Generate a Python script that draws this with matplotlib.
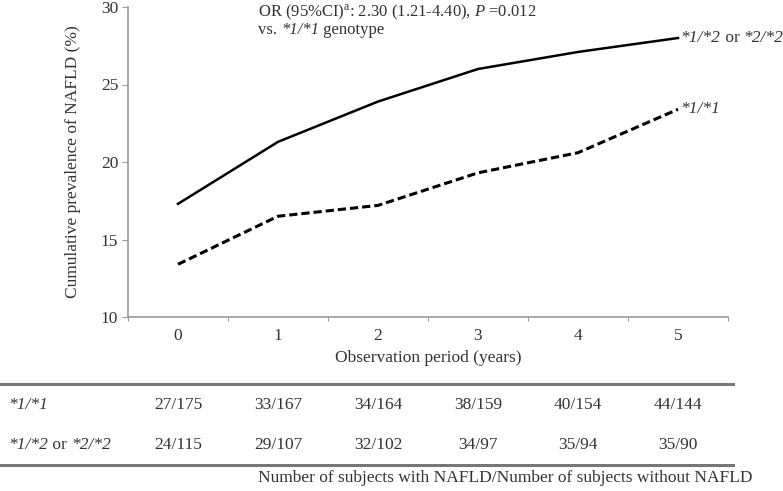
import matplotlib
matplotlib.use("Agg")
import matplotlib.pyplot as plt
import matplotlib.transforms as mtransforms
from matplotlib.lines import Line2D

# data
years = [0, 1, 2, 3, 4, 5]
prev_11 = [13.4, 16.5, 17.2, 19.3, 20.6, 23.4]      # *1/*1 (dashed)
prev_12 = [17.3, 21.3, 23.9, 26.0, 27.1, 28.0]      # *1/*2 or *2/*2 (solid)
counts_11 = ['27/175', '33/167', '34/164', '38/159', '40/154', '44/144']
counts_12 = ['24/115', '29/107', '32/102', '34/97', '35/94', '35/90']
y_ticks = [10, 15, 20, 25, 30]

plt.rcParams['font.family'] = 'Liberation Serif'
plt.rcParams['mathtext.fontset'] = 'custom'
plt.rcParams['mathtext.rm'] = 'Liberation Serif'
plt.rcParams['mathtext.it'] = 'Liberation Serif:italic'
txt = '#333333'
grey = '#999999'
fs = 12.5

W, H = 783, 491
fig = plt.figure(figsize=(W / 100, H / 100), dpi=100)
ax = fig.add_axes([128 / W, 1 - 317 / H, 600 / W, 310 / H])


def chain(t, parts, size=fs):
    # put text pieces with other styles right after text t
    for s, style in parts:
        t = ax.annotate(s, xy=(1, 0), xycoords=t, va='bottom', ha='left',
                        fontsize=size, fontstyle=style, color=txt,
                        annotation_clip=False)
    return t


ax.plot(years, prev_12, color='black', lw=1.8)
ax.plot(years, prev_11, color='black', lw=2.2, linestyle=(0, (2.7, 1.3)))

ax.set_xlim(-0.5, 5.5)
ax.set_ylim(10, 30)
ax.set_yticks(y_ticks)
ax.set_xticks([i - 0.5 for i in range(7)])
ax.set_xticklabels([])
ax.set_xticks(years, minor=True)
ax.set_xticklabels([str(y) for y in years], minor=True)
ax.tick_params(axis='x', which='minor', length=0, pad=8, labelsize=fs, labelcolor=txt)
ax.tick_params(axis='x', which='major', length=3, color=grey, direction='out')
ax.tick_params(axis='y', length=4, color=grey, labelsize=fs, labelcolor=txt, pad=3)
for side in ['top', 'right']:
    ax.spines[side].set_visible(False)
for side in ['left', 'bottom']:
    ax.spines[side].set_color(grey)
    ax.spines[side].set_linewidth(1.2)

ax.set_ylabel('Cumulative prevalence of NAFLD (%)', fontsize=fs, color=txt, labelpad=14)
ax.set_xlabel('Observation period (years)', fontsize=fs, color=txt, labelpad=4)

# annotation
fs_note = 12
fig.text(258 / W, 1 - 12 / H, r'OR (95%CI)$^{\mathrm{a}}$: 2.30 (1.21-4.40), $P$ =0.012',
         fontsize=fs_note, color=txt, va='center', ha='left')
t = fig.text(258 / W, 1 - 30 / H, 'vs. ', fontsize=fs_note, color=txt, va='center', ha='left')
chain(t, [('*1/*1', 'italic'), (' genotype', 'normal')], fs_note)

# line end labels
t = ax.annotate('*1/*2', xy=(years[-1], prev_12[-1]), xytext=(2, 0),
                textcoords='offset points', va='center', ha='left',
                fontsize=fs, fontstyle='italic', color=txt, annotation_clip=False)
chain(t, [(' or ', 'normal'), ('*2/*2', 'italic')])
ax.annotate('*1/*1', xy=(years[-1], prev_11[-1]), xytext=(2, 0),
            textcoords='offset points', va='center', ha='left',
            fontsize=fs, fontstyle='italic', color=txt, annotation_clip=False)

# table below the chart
blend = mtransforms.blended_transform_factory(ax.transData, fig.transFigure)
for yy in [384, 465]:
    fig.add_artist(Line2D([0, 733 / W], [1 - yy / H, 1 - yy / H], color='#777777', lw=2.2))

fig.text(8 / W, 1 - 405 / H, '*1/*1', fontsize=fs, fontstyle='italic', color=txt, va='center')
t = fig.text(8 / W, 1 - 445 / H, '*1/*2', fontsize=fs, fontstyle='italic', color=txt, va='center')
chain(t, [(' or ', 'normal'), ('*2/*2', 'italic')])
for x, c1, c2 in zip(years, counts_11, counts_12):
    ax.text(x, 1 - 405 / H, c1, transform=blend, ha='center', va='center',
            fontsize=fs, color=txt)
    ax.text(x, 1 - 445 / H, c2, transform=blend, ha='center', va='center',
            fontsize=fs, color=txt)

fig.text(258 / W, 1 - 478 / H,
         'Number of subjects with NAFLD/Number of subjects without NAFLD',
         fontsize=fs, color=txt, va='center', ha='left')

fig.savefig('out.png', dpi=100)
